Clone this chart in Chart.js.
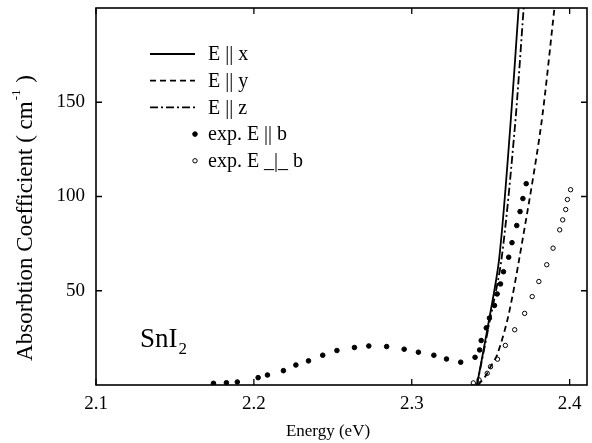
<!DOCTYPE html>
<html>
<head>
<meta charset="utf-8">
<script src="https://cdn.jsdelivr.net/npm/chart.js@4"></script>
<style>
  html, body { margin: 0; padding: 0; background: #fff; }
</style>
</head>
<body>
<canvas id="chart" width="592" height="443"></canvas>
<script>
// tick labels
var xTicks = [2.1, 2.2, 2.3, 2.4];
var yTicks = [50, 100, 150];

// calculated curves (energy in eV, absorption in cm-1)
var energyX = [2.3413, 2.3482, 2.3553, 2.3623, 2.3677, 2.3695];
var absX = [0, 31, 66.5, 135.7, 200, 222];
var energyY = [2.3420, 2.3470, 2.3499, 2.3541, 2.3610, 2.3680, 2.3816, 2.3904, 2.3930];
var absY = [0, 5, 9.7, 16, 36, 66.5, 135.7, 200, 219];
var energyZ = [2.3413, 2.3487, 2.3568, 2.3652, 2.3709, 2.3727];
var absZ = [0, 31, 66.5, 135.7, 200, 220];

// experiment, E || b
var expParE = [2.1744, 2.1826, 2.1895, 2.2027, 2.2086, 2.2187, 2.2266, 2.2346, 2.2436, 2.2526,
  2.2637, 2.2728, 2.2841, 2.2952, 2.3042, 2.3140, 2.3220, 2.3310, 2.3401, 2.3430, 2.3440,
  2.3472, 2.3492, 2.3524, 2.3541, 2.3562, 2.3581, 2.3614, 2.3635, 2.3665, 2.3686, 2.3704, 2.3725];
var expParA = [0.9, 1.2, 1.6, 3.9, 5.3, 7.6, 10.6, 12.8, 15.8, 18.3,
  19.9, 20.7, 20.4, 19.0, 17.4, 15.8, 13.8, 12.1, 14.7, 18.6, 23.6,
  30.3, 35.5, 42.2, 48.3, 53.6, 60.1, 67.8, 75.5, 84.6, 92.0, 98.9, 106.8];

// experiment, E _|_ b
var expPerpE = [2.3390, 2.3426, 2.3478, 2.3499, 2.3543, 2.3593, 2.3652, 2.3715, 2.3763,
  2.3805, 2.3855, 2.3895, 2.3937, 2.3956, 2.3975, 2.3986, 2.4006];
var expPerpA = [1.1, 2.7, 6.2, 9.7, 13.7, 21, 29.3, 38, 46.9,
  54.9, 63.8, 72.6, 82.3, 87.6, 93.1, 98.4, 103.6];

var serif = "'Liberation Serif', 'Times New Roman', serif";

function pts(xs, ys) {
  return xs.map(function (x, i) { return { x: x, y: ys[i] }; });
}

function noPad(s) {
  s.paddingTop = 0; s.paddingBottom = 0; s.paddingLeft = 0; s.paddingRight = 0;
}

// legend drawn inside the plot, top left
var legendBox = {
  id: "legendBox",
  afterDatasetsDraw: function (chart) {
    var c = chart.ctx, a = chart.chartArea;
    c.save();
    c.font = "20px " + serif;
    c.textBaseline = "middle";
    c.fillStyle = "#000";
    chart.data.datasets.forEach(function (ds, i) {
      var y = a.top + 46 + i * 26.7;
      var x0 = a.left + 54, x1 = a.left + 99;
      if (ds.showLine) {
        c.strokeStyle = "#000";
        c.lineWidth = ds.borderWidth;
        c.setLineDash(ds.borderDash || []);
        c.beginPath();
        c.moveTo(x0, y);
        c.lineTo(x1, y);
        c.stroke();
        c.setLineDash([]);
      } else {
        c.beginPath();
        c.arc(x1, y, ds.pointRadius, 0, Math.PI * 2);
        c.fillStyle = ds.pointBackgroundColor;
        c.fill();
        c.lineWidth = 1;
        c.strokeStyle = "#000";
        c.stroke();
        c.fillStyle = "#000";
      }
      c.fillText(ds.label, a.left + 112, y + 1);
    });
    c.restore();
  }
};

// frame, inward ticks, axis titles and SnI2 label
var frame = {
  id: "frame",
  afterDraw: function (chart) {
    var c = chart.ctx, a = chart.chartArea;
    var xs = chart.scales.x, ys = chart.scales.y;
    c.save();
    c.strokeStyle = "#000";
    c.lineWidth = 1.6;
    c.strokeRect(a.left, a.top, a.right - a.left, a.bottom - a.top);
    c.lineWidth = 1.3;
    c.beginPath();
    xTicks.forEach(function (v) {
      var px = xs.getPixelForValue(v);
      c.moveTo(px, a.bottom); c.lineTo(px, a.bottom - 6);
      c.moveTo(px, a.top); c.lineTo(px, a.top + 6);
    });
    yTicks.forEach(function (v) {
      var py = ys.getPixelForValue(v);
      c.moveTo(a.left, py); c.lineTo(a.left + 6, py);
      c.moveTo(a.right, py); c.lineTo(a.right - 6, py);
    });
    c.stroke();

    // x axis title
    c.fillStyle = "#000";
    c.textAlign = "center";
    c.textBaseline = "middle";
    c.font = "17px " + serif;
    c.fillText("Energy (eV)", 328, 432);

    // y axis title with superscript
    c.textAlign = "left";
    c.translate(26, 219);
    c.rotate(-Math.PI / 2);
    var main = "Absorbtion Coefficient ( cm";
    var sup = "-1";
    var tail = " )";
    c.font = "23px " + serif;
    var w1 = c.measureText(main).width, w3 = c.measureText(tail).width;
    c.font = "13px " + serif;
    var w2 = c.measureText(sup).width;
    var x = -(w1 + w2 + w3) / 2;
    c.font = "23px " + serif;
    c.fillText(main, x, 0);
    c.font = "13px " + serif;
    c.fillText(sup, x + w1 + 1, -9);
    c.font = "23px " + serif;
    c.fillText(tail, x + w1 + w2 + 2, 0);
    c.restore();

    // compound label
    c.save();
    c.fillStyle = "#000";
    c.textBaseline = "alphabetic";
    c.font = "27px " + serif;
    c.fillText("SnI", 140, 347);
    var wl = c.measureText("SnI").width;
    c.font = "17px " + serif;
    c.fillText("2", 140 + wl + 1, 354);
    c.restore();
  }
};

var ctx = document.getElementById("chart").getContext("2d");

var chart = new Chart(ctx, {
  type: "scatter",
  data: {
    datasets: [
      { label: "E || x", data: pts(energyX, absX), showLine: true, borderColor: "#000",
        borderWidth: 1.8, pointRadius: 0, tension: 0.3 },
      { label: "E || y", data: pts(energyY, absY), showLine: true, borderColor: "#000",
        borderWidth: 1.8, borderDash: [6, 4], pointRadius: 0, tension: 0.3 },
      { label: "E || z", data: pts(energyZ, absZ), showLine: true, borderColor: "#000",
        borderWidth: 1.8, borderDash: [8, 3, 2, 3], pointRadius: 0, tension: 0.3 },
      { label: "exp. E || b", data: pts(expParE, expParA), showLine: false,
        pointRadius: 2.3, pointBackgroundColor: "#000", pointBorderColor: "#000", pointBorderWidth: 1 },
      { label: "exp. E _|_ b", data: pts(expPerpE, expPerpA), showLine: false,
        pointRadius: 2.2, pointBackgroundColor: "#fff", pointBorderColor: "#000", pointBorderWidth: 1 }
    ]
  },
  options: {
    responsive: false,
    animation: false,
    devicePixelRatio: 1,
    layout: { padding: { top: 8, right: 0, left: 0, bottom: 0 } },
    plugins: { legend: { display: false }, tooltip: { enabled: false } },
    scales: {
      x: {
        type: "linear",
        min: 2.1,
        max: 2.411,
        afterBuildTicks: function (s) { s.ticks = xTicks.map(function (v) { return { value: v }; }); },
        afterFit: function (s) { s.height = 58; noPad(s); },
        grid: { display: false, drawTicks: false },
        border: { display: false },
        ticks: {
          color: "#000",
          padding: 8,
          maxRotation: 0,
          font: { family: serif, size: 19 },
          callback: function (v) { return v.toFixed(1); }
        }
      },
      y: {
        min: 0,
        max: 200,
        afterBuildTicks: function (s) { s.ticks = yTicks.map(function (v) { return { value: v }; }); },
        afterFit: function (s) { s.width = 96; noPad(s); },
        grid: { display: false, drawTicks: false },
        border: { display: false },
        ticks: {
          color: "#000",
          padding: 11,
          font: { family: serif, size: 19 }
        }
      }
    }
  },
  plugins: [legendBox, frame]
});
</script>
</body>
</html>
